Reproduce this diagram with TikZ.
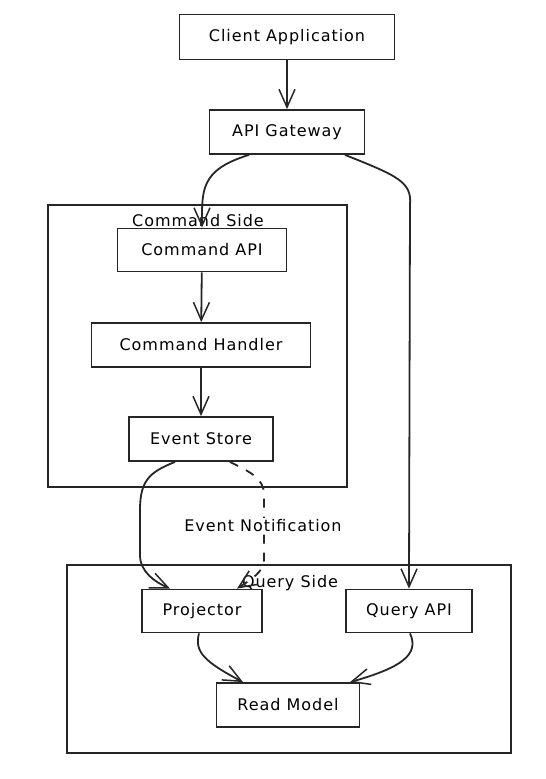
\documentclass[tikz,border=0pt]{standalone}
\usepackage{fontspec}
\setmainfont{DejaVu Sans}[LetterSpace=6]
\usetikzlibrary{arrows.meta}
\tikzset{
  box/.style={draw=black!85,line width=1.8pt,inner sep=0pt,font=\fontsize{16}{19}\selectfont},
  side/.style={draw=black!85,line width=1.6pt},
  flow/.style={draw=black!85,line width=1.8pt,-{Straight Barb[length=18pt,width=16pt,line width=1.5pt]}},
}
\begin{document}
\begin{tikzpicture}[x=1pt,y=-1pt]
\useasboundingbox (0,0) rectangle (546,779);

% clusters:
\draw[side] (48,205) rectangle (347,487);
\path (198,221) node[font=\fontsize{16}{19}\selectfont] (cmdlbl) {Command Side};
\draw[side] (67,565) rectangle (511,753);
\path (290,583) node[font=\fontsize{16}{19}\selectfont] (qrylbl) {Query Side};

% nodes:
\path (287,37) node[box,minimum width=215pt,minimum height=45pt] (client) {Client Application};
\path (287,132) node[box,minimum width=155pt,minimum height=44pt] (gw) {API Gateway};
\path (202,250) node[box,minimum width=169pt,minimum height=43pt] (capi) {Command API};
\path (201,345) node[box,minimum width=219pt,minimum height=44pt] (chandler) {Command Handler};
\path (201,439) node[box,minimum width=144pt,minimum height=44pt] (estore) {Event Store};
\path (202,611) node[box,minimum width=120pt,minimum height=43pt] (proj) {Projector};
\path (409,611) node[box,minimum width=126pt,minimum height=43pt] (qapi) {Query API};
\path (288,705) node[box,minimum width=143pt,minimum height=44pt] (rmodel) {Read Model};

% connectors:
\draw[flow] (client) -- (gw);
\draw[flow] ([xshift=-38pt]gw.south) .. controls (200,170) and (202,190) .. (capi.north);
\draw[flow] ([xshift=58pt]gw.south) .. controls (398,176) and (412,182) .. (410,205) -- (qapi.north);
\draw[flow] (capi) -- (chandler);
\draw[flow] (chandler) -- (estore);
\draw[flow] ([xshift=-26pt]estore.south) .. controls (150,472) and (140,480) .. (140,510)
  -- (140,555) .. controls (140,572) and (155,582) .. ([xshift=-32pt]proj.north);
\draw[flow,dashed,dash pattern=on 9pt off 9pt] ([xshift=29pt]estore.south) .. controls (250,472) and (264,478) .. (264,495)
  -- (264,560) .. controls (264,572) and (250,580) .. ([xshift=35pt]proj.north);
\path (263,526) node[font=\fontsize{16}{19}\selectfont,fill=white,inner sep=2pt] (notif) {Event Notification};
\draw[flow] ([xshift=-3pt]proj.south) .. controls (194,652) and (205,662) .. ([xshift=-45pt]rmodel.north);
\draw[flow] ([xshift=1pt]qapi.south) .. controls (420,655) and (400,668) .. ([xshift=62pt]rmodel.north);

\end{tikzpicture}
\end{document}
